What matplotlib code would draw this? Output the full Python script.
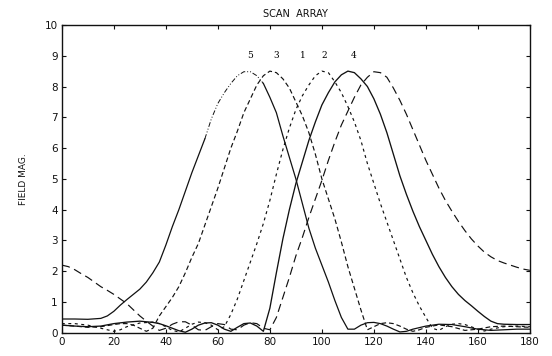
import numpy as np
import matplotlib.pyplot as plt

plt.rcParams['font.family'] = ['DejaVu Sans']

# 扫描阵列 - 五个波束 (角度, 场强)
ang5 = [0, 5, 10, 15, 17.5, 20, 22.5, 25, 27.5, 30, 32.5, 35, 37.5, 40, 42.5, 45, 47.5, 50,
        52.5, 55, 57.5, 60, 62.5, 65, 67.5, 70, 72.5, 75, 77.5, 80, 82.5, 85, 87.5, 90,
        92.5, 95, 97.5, 100, 102.5, 105, 107.5, 110, 112.5, 115, 117.5, 120, 122.5, 125,
        127.5, 130, 132.5, 135, 140, 145, 150, 155, 160, 165, 170, 175, 180]
mag5 = [0.45, 0.45, 0.44, 0.47, 0.55, 0.7, 0.9, 1.08, 1.25, 1.42, 1.65, 1.95, 2.3, 2.85, 3.45,
        4.0, 4.6, 5.2, 5.75, 6.3, 6.95, 7.45, 7.8, 8.1, 8.35, 8.48, 8.48, 8.35, 8.1, 7.65,
        7.15, 6.4, 5.7, 5.0, 4.2, 3.4, 2.75, 2.2, 1.65, 1.05, 0.5, 0.12, 0.12, 0.25, 0.33,
        0.34, 0.3, 0.22, 0.12, 0.03, 0.05, 0.12, 0.22, 0.28, 0.27, 0.2, 0.12, 0.08, 0.1,
        0.12, 0.12]

ang3 = [0, 5, 10, 15, 20, 22.5, 25, 27.5, 30, 32.5, 35, 37.5, 40, 42.5, 45, 47.5, 50, 52.5,
        55, 57.5, 60, 62.5, 65, 67.5, 70, 72.5, 75, 77.5, 80, 82.5, 85, 87.5, 90, 92.5, 95,
        97.5, 100, 102.5, 105, 107.5, 110, 112.5, 115, 117.5, 120, 122.5, 125, 127.5, 130,
        132.5, 135, 137.5, 140, 145, 150, 155, 160, 165, 170, 175, 180]
mag3 = [0.25, 0.22, 0.18, 0.2, 0.27, 0.3, 0.3, 0.25, 0.15, 0.05, 0.15, 0.55, 0.85, 1.15, 1.5,
        1.95, 2.45, 2.9, 3.5, 4.1, 4.7, 5.35, 6.0, 6.55, 7.15, 7.6, 8.05, 8.35, 8.5, 8.45,
        8.25, 7.95, 7.5, 7.05, 6.5, 5.8, 5.0, 4.35, 3.7, 2.95, 2.15, 1.45, 0.75, 0.1, 0.2,
        0.3, 0.33, 0.3, 0.22, 0.12, 0.05, 0.1, 0.18, 0.26, 0.2, 0.08, 0.12, 0.2, 0.22, 0.2,
        0.18]

ang2 = [0, 5, 10, 15, 20, 22.5, 25, 30, 35, 37.5, 40, 42.5, 45, 47.5, 50, 52.5, 55, 57.5, 60,
        62.5, 65, 67.5, 70, 72.5, 75, 77.5, 80, 82.5, 85, 87.5, 90, 92.5, 95, 97.5, 100,
        102.5, 105, 107.5, 110, 112.5, 115, 117.5, 120, 122.5, 125, 127.5, 130, 132.5, 135,
        137.5, 140, 142.5, 145, 147.5, 150, 152.5, 155, 160, 162.5, 165, 170, 175, 180]
mag2 = [0.3, 0.3, 0.25, 0.15, 0.05, 0.1, 0.2, 0.32, 0.35, 0.3, 0.2, 0.08, 0.03, 0.15, 0.28,
        0.35, 0.33, 0.25, 0.1, 0.2, 0.6, 1.1, 1.7, 2.3, 2.9, 3.55, 4.3, 5.15, 5.95, 6.65, 7.25,
        7.7, 8.05, 8.35, 8.5, 8.45, 8.15, 7.8, 7.35, 6.85, 6.25, 5.5, 4.85, 4.2, 3.6, 3.0, 2.4,
        1.8, 1.3, 0.87, 0.5, 0.15, 0.08, 0.2, 0.28, 0.3, 0.27, 0.12, 0.06, 0.12, 0.2, 0.22,
        0.2]

ang4 = [0, 5, 10, 15, 20, 25, 30, 35, 37.5, 40, 42.5, 45, 47.5, 50, 52.5, 55, 57.5, 60, 62.5,
        65, 67.5, 70, 72.5, 75, 77.5, 80, 82.5, 85, 87.5, 90, 92.5, 95, 97.5, 100, 102.5, 105,
        107.5, 110, 112.5, 115, 117.5, 120, 122.5, 125, 127.5, 130, 132.5, 135, 137.5, 140,
        142.5, 145, 147.5, 150, 152.5, 155, 157.5, 160, 162.5, 165, 167.5, 170, 175, 180]
mag4 = [0.25, 0.22, 0.2, 0.22, 0.3, 0.35, 0.38, 0.34, 0.3, 0.23, 0.15, 0.07, 0.02, 0.12, 0.25,
        0.32, 0.33, 0.25, 0.12, 0.05, 0.18, 0.3, 0.32, 0.22, 0.05, 0.8, 1.95, 3.05, 4.0, 4.85,
        5.55, 6.25, 6.85, 7.4, 7.8, 8.15, 8.38, 8.5, 8.45, 8.25, 8.0, 7.6, 7.1, 6.5, 5.8,
        5.1, 4.5, 3.95, 3.45, 3.0, 2.55, 2.15, 1.8, 1.5, 1.25, 1.05, 0.88, 0.7, 0.53, 0.38,
        0.3, 0.28, 0.27, 0.27]

ang1 = [0, 2.5, 5, 7.5, 10, 12.5, 15, 17.5, 20, 22.5, 25, 27.5, 30, 32.5, 35, 37.5, 40, 42.5,
        45, 47.5, 50, 52.5, 55, 57.5, 60, 62.5, 65, 67.5, 70, 72.5, 75, 77.5, 80, 82.5, 85,
        87.5, 90, 92.5, 95, 97.5, 100, 102.5, 105, 107.5, 110, 112.5, 115, 117.5, 120, 122.5,
        125, 127.5, 130, 132.5, 135, 137.5, 140, 142.5, 145, 147.5, 150, 152.5, 155, 157.5,
        160, 162.5, 165, 167.5, 170, 172.5, 175, 177.5, 180]
mag1 = [2.2, 2.15, 2.05, 1.92, 1.8, 1.65, 1.5, 1.38, 1.25, 1.1, 0.95, 0.75, 0.55, 0.38, 0.22,
        0.08, 0.15, 0.28, 0.36, 0.36, 0.25, 0.1, 0.08, 0.2, 0.3, 0.27, 0.12, 0.1, 0.25, 0.33,
        0.3, 0.15, 0.1, 0.5, 1.15, 1.8, 2.5, 3.1, 3.75, 4.35, 4.95, 5.6, 6.2, 6.75, 7.2, 7.65,
        8.05, 8.3, 8.48, 8.45, 8.3, 7.95, 7.55, 7.1, 6.6, 6.1, 5.6, 5.15, 4.7, 4.3, 3.95,
        3.62, 3.32, 3.05, 2.82, 2.62, 2.47, 2.35, 2.27, 2.2, 2.13, 2.07, 2.03]

beam_labels = ['5', '3', '1', '2', '4']
label_pos = [72.5, 82.3, 92.8, 100.9, 112.3]

fig = plt.figure(figsize=(5.52, 3.56), dpi=100)
ax = fig.add_axes([0.112, 0.065, 0.848, 0.865])
c = '#111111'

# 波束5: 实线, 峰顶附近为点划线
a5 = np.array(ang5)
m5 = np.array(mag5)
left = a5 <= 55
mid = (a5 >= 55) & (a5 <= 77.5)
right = a5 >= 77.5
ax.plot(a5[left], m5[left], color=c, lw=0.9)
ax.plot(a5[mid], m5[mid], color=c, lw=0.7, ls=(0, (5, 2, 1, 2, 1, 2)))
ax.plot(a5[right], m5[right], color=c, lw=0.9)

ax.plot(ang3, mag3, color=c, lw=0.85, ls=(0, (4, 2.5)))
ax.plot(ang2, mag2, color=c, lw=0.85, ls=(0, (2.5, 3)))
ax.plot(ang4, mag4, color=c, lw=0.95)
ax.plot(ang1, mag1, color=c, lw=0.85, ls=(0, (7, 4)))

for t, xp in zip(beam_labels, label_pos):
    ax.text(xp, 9.0, t, fontsize=6.5, ha='center', va='center', family='DejaVu Serif')

ax.set_xlim(0, 180)
ax.set_ylim(0, 10)
ax.set_xticks(range(0, 181, 20))
ax.set_yticks(range(0, 11))
ax.tick_params(direction='in', top=True, right=True, labelsize=7.5, length=3, width=0.8,
               colors=c, pad=3)
for s in ax.spines.values():
    s.set_linewidth(1.0)
    s.set_color(c)

ax.set_title('SCAN  ARRAY', fontsize=7, pad=6, color=c)
ax.set_ylabel('FIELD MAG.', fontsize=6.5, labelpad=12, color=c)

plt.savefig('out.png', dpi=100)
